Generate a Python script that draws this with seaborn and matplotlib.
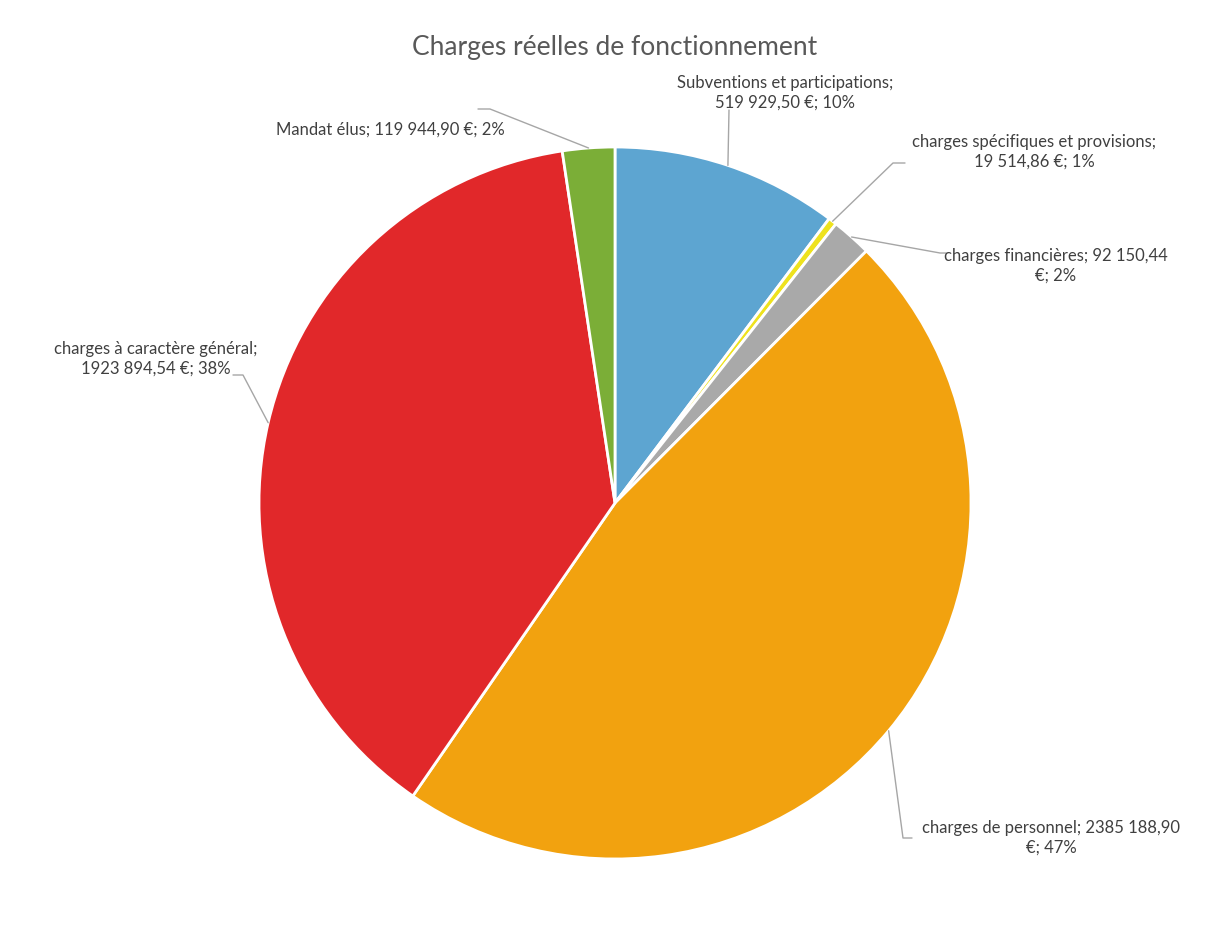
import numpy as np
import matplotlib
matplotlib.use("Agg")
import matplotlib.pyplot as plt
import seaborn as sns

# data
categories = [
    "Subventions et participations",
    "charges spécifiques et provisions",
    "charges financières",
    "charges de personnel",
    "charges à caractère général",
    "Mandat élus",
]
amounts = [519929.50, 19514.86, 92150.44, 2385188.90, 1923894.54, 119944.90]
amount_txt = ["519 929,50", "19 514,86", "92 150,44", "2385 188,90", "1923 894,54", "119 944,90"]
pct_txt = ["10%", "1%", "2%", "47%", "38%", "2%"]
colors = ["#5DA5D1", "#EEE21E", "#A9A9A9", "#F2A20F", "#E1282A", "#7BAE37"]

sns.set_theme(style="white")
plt.rcParams["font.family"] = ["Lato", "DejaVu Sans"]

W, H = 1209, 932
CX, CY, R = 615, 503, 356


def px(x, y):
    # pixel position -> pie data coordinates
    return (x - CX) / R, (CY - y) / R


fig = plt.figure(figsize=(W / 100, H / 100), dpi=100)
fig.patch.set_facecolor("white")
ax = fig.add_axes([(CX - R) / W, (H - CY - R) / H, 2 * R / W, 2 * R / H])

wedges, _ = ax.pie(amounts, colors=colors, startangle=90, counterclock=False,
                   radius=1, wedgeprops=dict(edgecolor="white", linewidth=2))
ax.set_xlim(-1, 1)
ax.set_ylim(-1, 1)
ax.set_aspect("equal")
ax.axis("off")

# label layout: text centre (px), line template, leader knees (px)
label_layout = [
    ((785, 93), "{c};\n{a} €; {p}", [(729, 110)]),
    ((1034, 152), "{c};\n{a} €; {p}", [(893, 163), (905, 163)]),
    ((1056, 266), "{c}; {a}\n€; {p}", [(940, 253), (946, 253)]),
    ((1051, 838), "{c}; {a}\n€; {p}", [(903, 838), (912, 838)]),
    ((156, 359), "{c};\n{a} €; {p}", [(243, 375), (233, 375)]),
    ((390, 130), "{c}; {a} €; {p}", [(490, 109), (478, 109)]),
]

txt_color = "#404040"
line_color = "#A6A6A6"
for w, cat, amt, pct, (pos, tmpl, knees) in zip(wedges, categories, amount_txt, pct_txt, label_layout):
    mid = np.deg2rad((w.theta1 + w.theta2) / 2)
    pts = [(np.cos(mid), np.sin(mid))] + [px(*k) for k in knees]
    xs, ys = zip(*pts)
    ax.plot(xs, ys, color=line_color, lw=1, clip_on=False)
    tx, ty = px(*pos)
    ax.text(tx, ty, tmpl.format(c=cat, a=amt, p=pct), ha="center", va="center",
            fontsize=12, color=txt_color, linespacing=1.25, clip_on=False)

fig.text(615 / W, 1 - 48 / H, "Charges réelles de fonctionnement", ha="center",
         va="center", fontsize=19, color="#595959")

fig.savefig("out.png", dpi=100, facecolor="white")
